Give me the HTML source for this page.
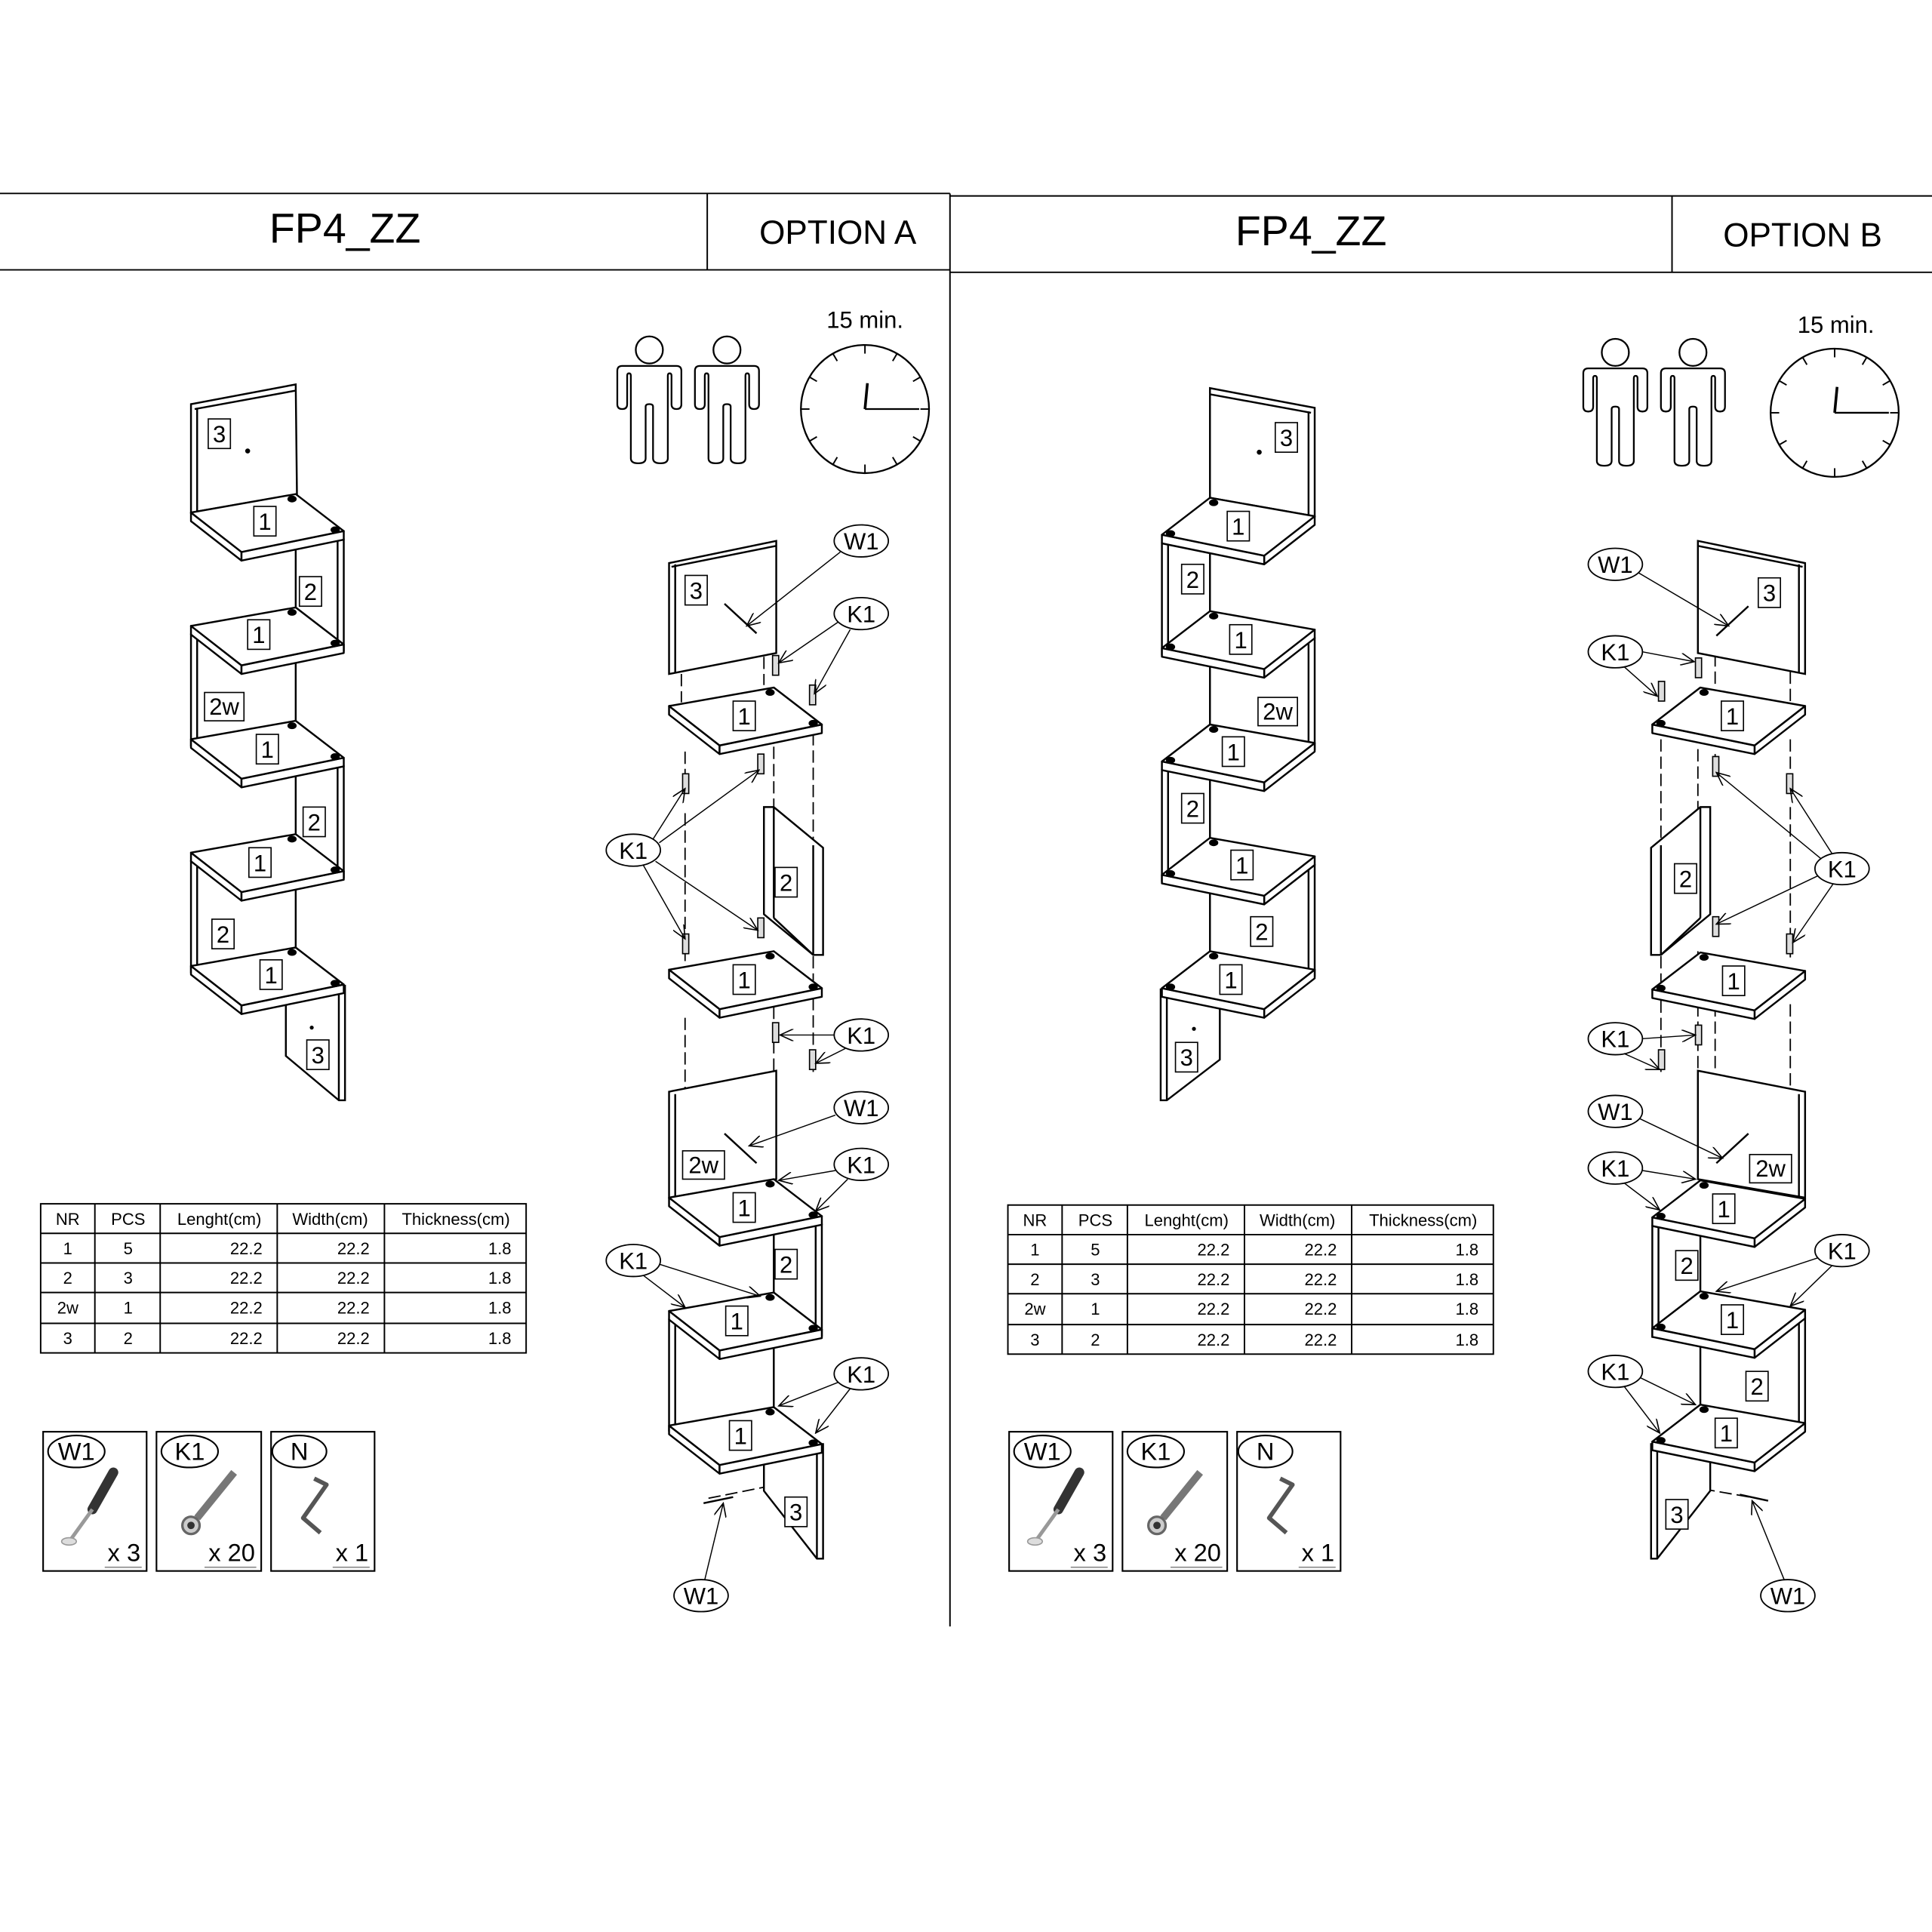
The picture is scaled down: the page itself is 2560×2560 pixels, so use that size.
<!DOCTYPE html>
<html><head><meta charset="utf-8"><style>
html,body{margin:0;padding:0;background:#fff}
svg{display:block}
text{font-family:"Liberation Sans",Arial,sans-serif;fill:#000}
</style></head><body>
<svg width="2560" height="2560" viewBox="0 0 1568 1568" xmlns="http://www.w3.org/2000/svg">
<defs>
<marker id="ar" viewBox="0 0 12 10" refX="11" refY="5" markerWidth="12" markerHeight="10" orient="auto" markerUnits="userSpaceOnUse"><path d="M0,0 L11,5 L0,10" fill="none" stroke="#000" stroke-width="1"/></marker>
<g id="sh" fill="#fff" stroke="#000" stroke-width="1.5" stroke-linejoin="round">
<polygon points="0,0 41,32 41,39 0,7"/><polygon points="41,32 124,15 124,22 41,39"/><polygon points="0,0 85,-15 124,15 41,32"/>
<ellipse cx="82" cy="-11" rx="3" ry="2" fill="#000"/><ellipse cx="117" cy="14" rx="3" ry="2" fill="#000"/></g>
<g id="rp" fill="#fff" stroke="#000" stroke-width="1.5"><rect x="119" y="22" width="5" height="90"/><line x1="85" y1="30" x2="85" y2="78"/></g>
<g id="lp" fill="#fff" stroke="#000" stroke-width="1.5"><rect x="0" y="7" width="5" height="90"/><line x1="85" y1="30" x2="85" y2="78"/></g>
<g id="man"><circle cx="0" cy="-13" r="11" fill="none" stroke="#000" stroke-width="1.4"/>
<path d="M-22,0 H22 Q26,0 26,4 V31 Q26,35 22,35 Q18,35 18,31 V8 Q18,6 16.5,6 Q15,6 15,8 V75 Q15,79 9,79 Q3,79 3,75 V33 Q3,31 0,31 Q-3,31 -3,33 V75 Q-3,79 -9,79 Q-15,79 -15,75 V8 Q-15,6 -16.5,6 Q-18,6 -18,8 V31 Q-18,35 -22,35 Q-26,35 -26,31 V4 Q-26,0 -22,0 Z" fill="none" stroke="#000" stroke-width="1.4"/></g>
<g id="clk" stroke="#000" fill="none"><circle r="52" stroke-width="1.4"/>
<g stroke-width="1.2">
<line x1="0" y1="-52" x2="0" y2="-45"/><line x1="0" y1="52" x2="0" y2="45"/><line x1="-52" y1="0" x2="-45" y2="0"/><line x1="52" y1="0" x2="45" y2="0"/>
<line x1="26" y1="-45" x2="22.5" y2="-39"/><line x1="45" y1="-26" x2="39" y2="-22.5"/><line x1="45" y1="26" x2="39" y2="22.5"/><line x1="26" y1="45" x2="22.5" y2="39"/>
<line x1="-26" y1="-45" x2="-22.5" y2="-39"/><line x1="-45" y1="-26" x2="-39" y2="-22.5"/><line x1="-45" y1="26" x2="-39" y2="22.5"/><line x1="-26" y1="45" x2="-22.5" y2="39"/></g>
<line x1="0" y1="0" x2="2" y2="-21" stroke-width="2.2"/><line x1="0" y1="0" x2="44" y2="0" stroke-width="1.4"/></g>
<g id="tbl" stroke="#000" stroke-width="1.2" fill="none">
<rect x="33" y="977" width="394" height="121"/>
<line x1="33" y1="1001" x2="427" y2="1001"/><line x1="33" y1="1025" x2="427" y2="1025"/><line x1="33" y1="1049" x2="427" y2="1049"/><line x1="33" y1="1074" x2="427" y2="1074"/>
<line x1="77" y1="977" x2="77" y2="1098"/><line x1="130" y1="977" x2="130" y2="1098"/><line x1="225" y1="977" x2="225" y2="1098"/><line x1="312" y1="977" x2="312" y2="1098"/>
<g stroke="none" fill="#000" font-size="13.5" font-family="Liberation Sans, sans-serif">
<text x="55" y="994" text-anchor="middle">NR</text><text x="104" y="994" text-anchor="middle">PCS</text><text x="178" y="994" text-anchor="middle">Lenght(cm)</text><text x="268" y="994" text-anchor="middle">Width(cm)</text><text x="370" y="994" text-anchor="middle">Thickness(cm)</text>
<text x="55" y="1018" text-anchor="middle">1</text><text x="104" y="1018" text-anchor="middle">5</text><text x="213" y="1018" text-anchor="end">22.2</text><text x="300" y="1018" text-anchor="end">22.2</text><text x="415" y="1018" text-anchor="end">1.8</text>
<text x="55" y="1042" text-anchor="middle">2</text><text x="104" y="1042" text-anchor="middle">3</text><text x="213" y="1042" text-anchor="end">22.2</text><text x="300" y="1042" text-anchor="end">22.2</text><text x="415" y="1042" text-anchor="end">1.8</text>
<text x="55" y="1066" text-anchor="middle">2w</text><text x="104" y="1066" text-anchor="middle">1</text><text x="213" y="1066" text-anchor="end">22.2</text><text x="300" y="1066" text-anchor="end">22.2</text><text x="415" y="1066" text-anchor="end">1.8</text>
<text x="55" y="1091" text-anchor="middle">3</text><text x="104" y="1091" text-anchor="middle">2</text><text x="213" y="1091" text-anchor="end">22.2</text><text x="300" y="1091" text-anchor="end">22.2</text><text x="415" y="1091" text-anchor="end">1.8</text>
</g></g>
<g id="hw">
<g fill="none" stroke="#000" stroke-width="1.3"><rect x="35" y="1162" width="84" height="113"/><rect x="127" y="1162" width="85" height="113"/><rect x="220" y="1162" width="84" height="113"/>
<ellipse cx="62" cy="1178" rx="23" ry="13"/><ellipse cx="154" cy="1178" rx="23" ry="13"/><ellipse cx="243" cy="1178" rx="22" ry="13"/></g>
<g font-size="20"><text x="62" y="1185" text-anchor="middle">W1</text><text x="154" y="1185" text-anchor="middle">K1</text><text x="243" y="1185" text-anchor="middle">N</text>
<text x="114" y="1267" text-anchor="end">x 3</text><text x="207" y="1267" text-anchor="end">x 20</text><text x="299" y="1267" text-anchor="end">x 1</text></g>
<g stroke="#888" stroke-width="1"><line x1="85" y1="1272" x2="115" y2="1272"/><line x1="166" y1="1272" x2="208" y2="1272"/><line x1="270" y1="1272" x2="300" y2="1272"/></g>
<line x1="92" y1="1195" x2="75" y2="1225" stroke="#333" stroke-width="8" stroke-linecap="round"/>
<line x1="75" y1="1225" x2="57" y2="1250" stroke="#999" stroke-width="3"/><ellipse cx="56" cy="1251" rx="6" ry="3" fill="#ddd" stroke="#999"/>
<line x1="190" y1="1195" x2="160" y2="1232" stroke="#777" stroke-width="6"/><circle cx="155" cy="1238" r="7" fill="#ccc" stroke="#666" stroke-width="2"/><circle cx="155" cy="1238" r="3" fill="#333"/>
<polyline points="255,1200 265,1205 246,1232 260,1244" fill="none" stroke="#555" stroke-width="3.5" stroke-linejoin="round"/>
</g>
</defs>

<g stroke="#000" stroke-width="1.2">
<line x1="0" y1="157" x2="771" y2="157"/><line x1="0" y1="219" x2="771" y2="219"/>
<line x1="771" y1="159" x2="1568" y2="159"/><line x1="771" y1="221" x2="1568" y2="221"/>
<line x1="771" y1="157" x2="771" y2="1320"/><line x1="574" y1="157" x2="574" y2="219"/><line x1="1357" y1="159" x2="1357" y2="221"/>
</g>
<text x="280" y="197" font-size="34" text-anchor="middle">FP4_ZZ</text>
<text x="680" y="198" font-size="27" text-anchor="middle">OPTION A</text>
<text x="1064" y="199" font-size="34" text-anchor="middle">FP4_ZZ</text>
<text x="1463" y="200" font-size="27" text-anchor="middle">OPTION B</text>

<use href="#man" x="527" y="297"/><use href="#man" x="590" y="297"/>
<use href="#clk" x="702" y="332"/><text x="702" y="266" font-size="19" text-anchor="middle">15 min.</text>
<use href="#man" x="1311" y="299"/><use href="#man" x="1374" y="299"/>
<use href="#clk" x="1489" y="335"/><text x="1490" y="270" font-size="19" text-anchor="middle">15 min.</text>

<use href="#tbl"/><use href="#tbl" x="785" y="1"/>
<use href="#hw"/><use href="#hw" x="784"/>

<g font-size="19" font-family="Liberation Sans, sans-serif">
<!-- LEFT ASSEMBLED A -->
<g fill="#fff" stroke="#000" stroke-width="1.5">
<polygon points="155,416 155,328 240,312 241,401"/><line x1="160" y1="331" x2="160" y2="418"/><line x1="158" y1="332" x2="240" y2="317"/>
<polygon points="232,815 232,857 275,893 280,893 280,800 275,800"/><line x1="275" y1="800" x2="275" y2="893"/>
</g>
<use href="#rp" x="155" y="416"/><use href="#lp" x="155" y="508"/><use href="#rp" x="155" y="600"/><use href="#lp" x="155" y="692"/>
<use href="#sh" x="155" y="416"/><use href="#sh" x="155" y="508"/><use href="#sh" x="155" y="600"/><use href="#sh" x="155" y="692"/><use href="#sh" x="155" y="784"/>
<circle cx="201" cy="366" r="2"/><circle cx="253" cy="834" r="1.6"/>
<g fill="#fff" stroke="#000" stroke-width="1">
<rect x="169" y="340" width="18" height="24"/><rect x="206" y="411" width="18" height="24"/><rect x="243" y="468" width="18" height="24"/><rect x="201" y="503" width="18" height="24"/><rect x="166" y="562" width="32" height="23"/><rect x="208" y="596" width="18" height="24"/><rect x="246" y="655" width="18" height="24"/><rect x="202" y="688" width="18" height="24"/><rect x="172" y="746" width="18" height="24"/><rect x="211" y="779" width="18" height="24"/><rect x="249" y="844" width="18" height="24"/></g>
<g text-anchor="middle"><text x="178" y="359">3</text><text x="215" y="430">1</text><text x="252" y="487">2</text><text x="210" y="522">1</text><text x="182" y="580">2w</text><text x="217" y="615">1</text><text x="255" y="674">2</text><text x="211" y="707">1</text><text x="181" y="765">2</text><text x="220" y="798">1</text><text x="258" y="863">3</text></g>

<!-- RIGHT ASSEMBLED B -->
<g fill="#fff" stroke="#000" stroke-width="1.5">
<polygon points="1067,419 1067,331 982,315 982,404"/><line x1="1062" y1="334" x2="1062" y2="421"/><line x1="1064" y1="335" x2="982" y2="320"/>
<polygon points="990,818 990,860 947,893 942,893 942,803 947,803"/><line x1="947" y1="803" x2="947" y2="893"/>
</g>
<g transform="translate(1067,419) scale(-1,1)"><use href="#rp"/><use href="#lp" y="92"/><use href="#rp" y="184"/><use href="#lp" y="276"/>
<use href="#sh"/><use href="#sh" y="92"/><use href="#sh" y="184"/><use href="#sh" y="276"/><use href="#sh" y="368"/></g>
<circle cx="1022" cy="367" r="2"/><circle cx="969" cy="835" r="1.6"/>
<g fill="#fff" stroke="#000" stroke-width="1">
<rect x="1035" y="343" width="18" height="24"/><rect x="996" y="415" width="18" height="24"/><rect x="959" y="458" width="18" height="24"/><rect x="998" y="507" width="18" height="24"/><rect x="1021" y="566" width="32" height="23"/><rect x="992" y="598" width="18" height="24"/><rect x="959" y="644" width="18" height="24"/><rect x="999" y="690" width="18" height="24"/><rect x="1015" y="744" width="18" height="24"/><rect x="990" y="783" width="18" height="24"/><rect x="954" y="846" width="18" height="24"/></g>
<g text-anchor="middle"><text x="1044" y="362">3</text><text x="1005" y="434">1</text><text x="968" y="477">2</text><text x="1007" y="526">1</text><text x="1037" y="584">2w</text><text x="1001" y="617">1</text><text x="968" y="663">2</text><text x="1008" y="709">1</text><text x="1024" y="763">2</text><text x="999" y="802">1</text><text x="963" y="865">3</text></g>

<!-- EXPLODED A -->
<g fill="none" stroke="#000" stroke-width="1.1" stroke-dasharray="10,4">
<line x1="553" y1="547" x2="553" y2="570"/><line x1="620" y1="533" x2="620" y2="556"/>
<line x1="556" y1="610" x2="556" y2="640"/><line x1="556" y1="660" x2="556" y2="780"/><line x1="617" y1="612" x2="617" y2="628"/><line x1="628" y1="606" x2="628" y2="660"/><line x1="660" y1="595" x2="660" y2="690"/>
<line x1="628" y1="772" x2="628" y2="785"/><line x1="660" y1="776" x2="660" y2="800"/>
<line x1="556" y1="826" x2="556" y2="886"/><line x1="628" y1="817" x2="628" y2="870"/><line x1="660" y1="810" x2="660" y2="870"/>
<line x1="575" y1="1216" x2="640" y2="1203"/>
</g>
<g fill="#fff" stroke="#000" stroke-width="1.5">
<polygon points="543,457 630,439 630,530 543,547"/><line x1="548" y1="458" x2="548" y2="546"/><line x1="545" y1="460" x2="630" y2="443"/>
<polygon points="620,655 628,655 668,688 668,775 660,775 620,742"/><line x1="628" y1="655" x2="628" y2="745"/><line x1="628" y1="745" x2="660" y2="775"/><line x1="660" y1="686" x2="660" y2="775"/>
<polygon points="543,886 630,869 630,957 543,972"/><line x1="548" y1="888" x2="548" y2="972"/>
<polygon points="620,1185 620,1210 663,1265 668,1265 668,1172 663,1172"/><line x1="663" y1="1172" x2="663" y2="1265"/>
</g>
<use href="#sh" x="543" y="573"/><use href="#sh" x="543" y="787"/>
<use href="#rp" x="543" y="972"/><use href="#lp" x="543" y="1064"/>
<use href="#sh" x="543" y="972"/><use href="#sh" x="543" y="1064"/><use href="#sh" x="543" y="1157"/>
<g fill="#ddd" stroke="#000" stroke-width="1">
<rect x="627" y="532" width="5" height="16"/><rect x="657" y="556" width="5" height="16"/><rect x="554" y="628" width="5" height="16"/><rect x="615" y="612" width="5" height="16"/>
<rect x="554" y="758" width="5" height="16"/><rect x="615" y="745" width="5" height="16"/><rect x="627" y="830" width="5" height="16"/><rect x="657" y="852" width="5" height="16"/></g>
<g stroke="#000" stroke-width="1.5"><line x1="588" y1="490" x2="614" y2="514"/><line x1="571" y1="1220" x2="595" y2="1215"/><line x1="588" y1="920" x2="614" y2="944"/></g>
<g fill="#fff" stroke="#000" stroke-width="1">
<rect x="556" y="467" width="18" height="24"/><rect x="595" y="569" width="18" height="24"/><rect x="629" y="704" width="18" height="24"/><rect x="595" y="783" width="18" height="24"/><rect x="554" y="934" width="34" height="23"/><rect x="595" y="968" width="18" height="24"/><rect x="629" y="1014" width="18" height="24"/><rect x="589" y="1060" width="18" height="24"/><rect x="592" y="1153" width="18" height="24"/><rect x="637" y="1215" width="18" height="24"/></g>
<g text-anchor="middle"><text x="565" y="486">3</text><text x="604" y="588">1</text><text x="638" y="723">2</text><text x="604" y="802">1</text><text x="571" y="952">2w</text><text x="604" y="987">1</text><text x="638" y="1033">2</text><text x="598" y="1079">1</text><text x="601" y="1172">1</text><text x="646" y="1234">3</text></g>

<!-- EXPLODED B -->
<g fill="none" stroke="#000" stroke-width="1.1" stroke-dasharray="10,4">
<line x1="1392" y1="531" x2="1392" y2="556"/><line x1="1453" y1="545" x2="1453" y2="570"/>
<line x1="1348" y1="600" x2="1348" y2="690"/><line x1="1378" y1="608" x2="1378" y2="660"/><line x1="1392" y1="612" x2="1392" y2="628"/><line x1="1453" y1="600" x2="1453" y2="640"/><line x1="1453" y1="655" x2="1453" y2="780"/>
<line x1="1348" y1="776" x2="1348" y2="800"/><line x1="1378" y1="772" x2="1378" y2="785"/>
<line x1="1348" y1="812" x2="1348" y2="870"/><line x1="1378" y1="815" x2="1378" y2="870"/><line x1="1392" y1="815" x2="1392" y2="870"/><line x1="1453" y1="815" x2="1453" y2="886"/>
<line x1="1368" y1="1206" x2="1420" y2="1215"/>
</g>
<g fill="#fff" stroke="#000" stroke-width="1.5">
<polygon points="1465,457 1378,439 1378,530 1465,547"/><line x1="1460" y1="458" x2="1460" y2="546"/><line x1="1463" y1="460" x2="1378" y2="443"/>
<polygon points="1388,655 1380,655 1340,688 1340,775 1348,775 1388,742"/><line x1="1380" y1="655" x2="1380" y2="745"/><line x1="1348" y1="686" x2="1348" y2="775"/><line x1="1380" y1="745" x2="1348" y2="775"/>
<polygon points="1465,886 1378,869 1378,957 1465,972"/><line x1="1460" y1="888" x2="1460" y2="972"/>
<polygon points="1388,1185 1388,1210 1345,1265 1340,1265 1340,1172 1345,1172"/><line x1="1345" y1="1172" x2="1345" y2="1265"/>
</g>
<g transform="translate(1465,0) scale(-1,1)">
<use href="#sh" y="573"/><use href="#sh" y="788"/>
<use href="#rp" y="973"/><use href="#lp" y="1063"/>
<use href="#sh" y="973"/><use href="#sh" y="1063"/><use href="#sh" y="1155"/></g>
<g fill="#ddd" stroke="#000" stroke-width="1">
<rect x="1376" y="534" width="5" height="16"/><rect x="1346" y="553" width="5" height="16"/><rect x="1390" y="614" width="5" height="16"/><rect x="1450" y="628" width="5" height="16"/>
<rect x="1390" y="744" width="5" height="16"/><rect x="1450" y="758" width="5" height="16"/><rect x="1376" y="832" width="5" height="16"/><rect x="1346" y="852" width="5" height="16"/></g>
<g stroke="#000" stroke-width="1.5"><line x1="1419" y1="492" x2="1393" y2="516"/><line x1="1419" y1="920" x2="1393" y2="944"/><line x1="1412" y1="1213" x2="1435" y2="1218"/></g>
<g fill="#fff" stroke="#000" stroke-width="1">
<rect x="1427" y="469" width="18" height="24"/><rect x="1397" y="569" width="18" height="24"/><rect x="1359" y="701" width="18" height="24"/><rect x="1398" y="784" width="18" height="24"/><rect x="1420" y="937" width="34" height="23"/><rect x="1390" y="969" width="18" height="24"/><rect x="1360" y="1015" width="18" height="24"/><rect x="1397" y="1059" width="18" height="24"/><rect x="1417" y="1113" width="18" height="24"/><rect x="1392" y="1151" width="18" height="24"/><rect x="1352" y="1217" width="18" height="24"/></g>
<g text-anchor="middle"><text x="1436" y="488">3</text><text x="1406" y="588">1</text><text x="1368" y="720">2</text><text x="1407" y="803">1</text><text x="1437" y="955">2w</text><text x="1399" y="988">1</text><text x="1369" y="1034">2</text><text x="1406" y="1078">1</text><text x="1426" y="1132">2</text><text x="1401" y="1170">1</text><text x="1361" y="1236">3</text></g>

<!-- callouts -->
<g fill="#fff" stroke="#000" stroke-width="1.1">
<ellipse cx="699" cy="439" rx="22" ry="13"/><ellipse cx="699" cy="498" rx="22" ry="13"/><ellipse cx="514" cy="690" rx="22" ry="13"/><ellipse cx="699" cy="840" rx="22" ry="13"/><ellipse cx="699" cy="899" rx="22" ry="13"/><ellipse cx="699" cy="945" rx="22" ry="13"/><ellipse cx="514" cy="1023" rx="22" ry="13"/><ellipse cx="699" cy="1115" rx="22" ry="13"/><ellipse cx="569" cy="1295" rx="22" ry="13"/>
<ellipse cx="1311" cy="458" rx="22" ry="13"/><ellipse cx="1311" cy="529" rx="22" ry="13"/><ellipse cx="1495" cy="705" rx="22" ry="13"/><ellipse cx="1311" cy="843" rx="22" ry="13"/><ellipse cx="1311" cy="902" rx="22" ry="13"/><ellipse cx="1311" cy="948" rx="22" ry="13"/><ellipse cx="1495" cy="1015" rx="22" ry="13"/><ellipse cx="1311" cy="1113" rx="22" ry="13"/><ellipse cx="1451" cy="1295" rx="22" ry="13"/>
</g>
<g text-anchor="middle" font-size="19">
<text x="699" y="446">W1</text><text x="699" y="505">K1</text><text x="514" y="697">K1</text><text x="699" y="847">K1</text><text x="699" y="906">W1</text><text x="699" y="952">K1</text><text x="514" y="1030">K1</text><text x="699" y="1122">K1</text><text x="569" y="1302">W1</text>
<text x="1311" y="465">W1</text><text x="1311" y="536">K1</text><text x="1495" y="712">K1</text><text x="1311" y="850">K1</text><text x="1311" y="909">W1</text><text x="1311" y="955">K1</text><text x="1495" y="1022">K1</text><text x="1311" y="1120">K1</text><text x="1451" y="1302">W1</text></g>
<g stroke="#000" stroke-width="0.9" marker-end="url(#ar)" fill="none">
<line x1="682" y1="448" x2="606" y2="508"/><line x1="680" y1="505" x2="632" y2="538"/><line x1="690" y1="511" x2="661" y2="563"/>
<line x1="530" y1="681" x2="556" y2="640"/><line x1="535" y1="684" x2="616" y2="625"/><line x1="522" y1="702" x2="556" y2="762"/><line x1="532" y1="699" x2="615" y2="755"/>
<line x1="677" y1="840" x2="633" y2="840"/><line x1="686" y1="851" x2="662" y2="863"/>
<line x1="678" y1="905" x2="608" y2="930"/><line x1="678" y1="950" x2="632" y2="958"/><line x1="688" y1="957" x2="662" y2="983"/>
<line x1="522" y1="1035" x2="556" y2="1061"/><line x1="535" y1="1026" x2="617" y2="1052"/>
<line x1="680" y1="1122" x2="632" y2="1141"/><line x1="690" y1="1127" x2="662" y2="1163"/>
<line x1="572" y1="1282" x2="587" y2="1220"/>
<line x1="1330" y1="465" x2="1403" y2="508"/><line x1="1333" y1="529" x2="1375" y2="537"/><line x1="1318" y1="541" x2="1345" y2="565"/>
<line x1="1478" y1="697" x2="1393" y2="627"/><line x1="1487" y1="693" x2="1453" y2="640"/><line x1="1475" y1="711" x2="1393" y2="750"/><line x1="1488" y1="717" x2="1455" y2="765"/>
<line x1="1333" y1="843" x2="1376" y2="840"/><line x1="1318" y1="855" x2="1347" y2="868"/>
<line x1="1331" y1="908" x2="1398" y2="940"/><line x1="1333" y1="950" x2="1376" y2="957"/><line x1="1318" y1="960" x2="1347" y2="982"/>
<line x1="1475" y1="1021" x2="1393" y2="1048"/><line x1="1487" y1="1027" x2="1453" y2="1060"/>
<line x1="1331" y1="1118" x2="1376" y2="1140"/><line x1="1318" y1="1125" x2="1347" y2="1163"/>
<line x1="1448" y1="1282" x2="1422" y2="1218"/>
</g>
</g>
</svg>
</body></html>
